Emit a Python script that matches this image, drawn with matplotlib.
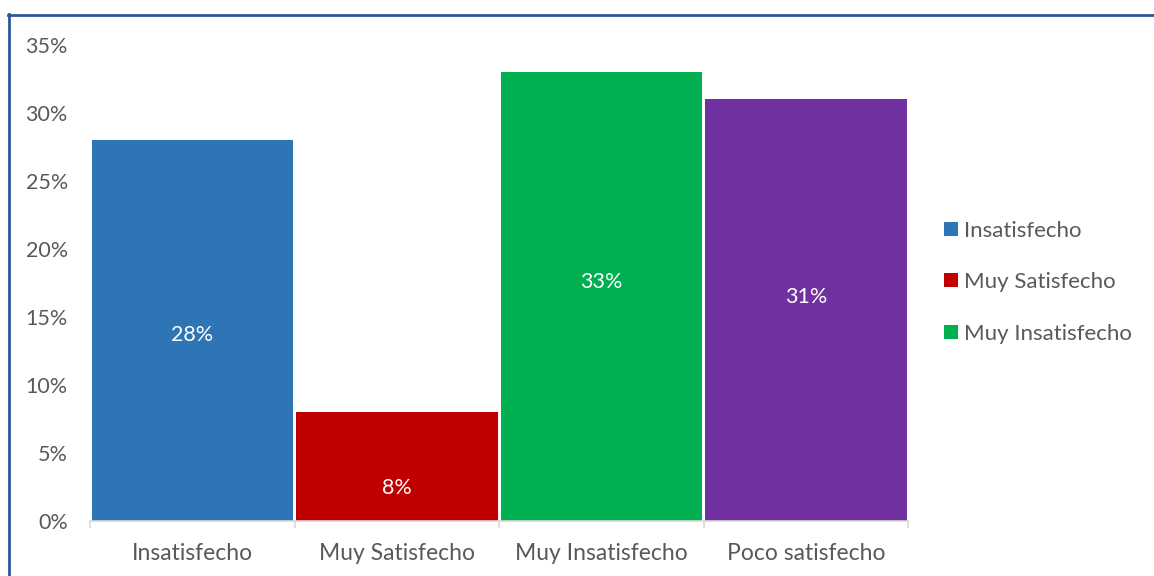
import matplotlib
matplotlib.use("Agg")
import matplotlib.pyplot as plt
from matplotlib.lines import Line2D
from matplotlib.patches import Patch
from matplotlib.ticker import PercentFormatter

categories = ["Insatisfecho", "Muy Satisfecho", "Muy Insatisfecho", "Poco satisfecho"]
values = [0.28, 0.08, 0.33, 0.31]
colors = ["#2E75B6", "#C00000", "#00B050", "#7030A0"]
legend_labels = ["Insatisfecho", "Muy Satisfecho", "Muy Insatisfecho"]
# heights at which the value labels sit inside each bar
label_heights = [0.137, 0.024, 0.176, 0.165]

plt.rcParams["font.family"] = ["Lato", "DejaVu Sans"]
text_color = "#595959"

fig = plt.figure(figsize=(11.54, 5.76), dpi=100)
ax = fig.add_axes([0.078, 0.0955, 0.709, 0.8265])

x = list(range(len(categories)))
ax.bar(x, values, width=0.985, color=colors, edgecolor="none")

for xi, v, h in zip(x, values, label_heights):
    ax.text(xi, h, f"{v * 100:.0f}%", ha="center", va="center",
            color="white", fontsize=15.5)

ax.set_xlim(-0.5, len(categories) - 0.5)
ax.set_ylim(0, 0.35)
ax.set_yticks([i * 0.05 for i in range(8)])
ax.yaxis.set_major_formatter(PercentFormatter(1.0, decimals=0))
ax.tick_params(axis="y", length=0, pad=16, labelsize=15.5, labelcolor=text_color)

ax.set_xticks(x)
ax.set_xticklabels(categories)
ax.set_xticks([i - 0.5 for i in range(len(categories) + 1)], minor=True)
ax.tick_params(axis="x", which="major", length=0, pad=16, labelsize=16.5,
               labelcolor=text_color)
ax.tick_params(axis="x", which="minor", length=5, width=1.2, color="#D9D9D9")

for side in ["top", "right", "left"]:
    ax.spines[side].set_visible(False)
ax.spines["bottom"].set_color("#D9D9D9")
ax.spines["bottom"].set_linewidth(1.2)

handles = [Patch(facecolor=c, edgecolor="none") for c in colors[:3]]
leg = fig.legend(handles, legend_labels, loc="center left",
                 bbox_to_anchor=(0.801, 0.510), frameon=False, fontsize=16,
                 handlelength=0.6, handleheight=0.6, handletextpad=0.3,
                 labelspacing=1.42, labelcolor=text_color)

# chart frame
frame_color = "#2F5597"
fig.add_artist(Line2D([8 / 1154, 1.0], [1 - 15 / 576, 1 - 15 / 576],
                      transform=fig.transFigure, color=frame_color, lw=2))
fig.add_artist(Line2D([9 / 1154, 9 / 1154], [0.0, 1 - 14 / 576],
                      transform=fig.transFigure, color=frame_color, lw=2))

fig.savefig("out.png", dpi=100, facecolor="white")
